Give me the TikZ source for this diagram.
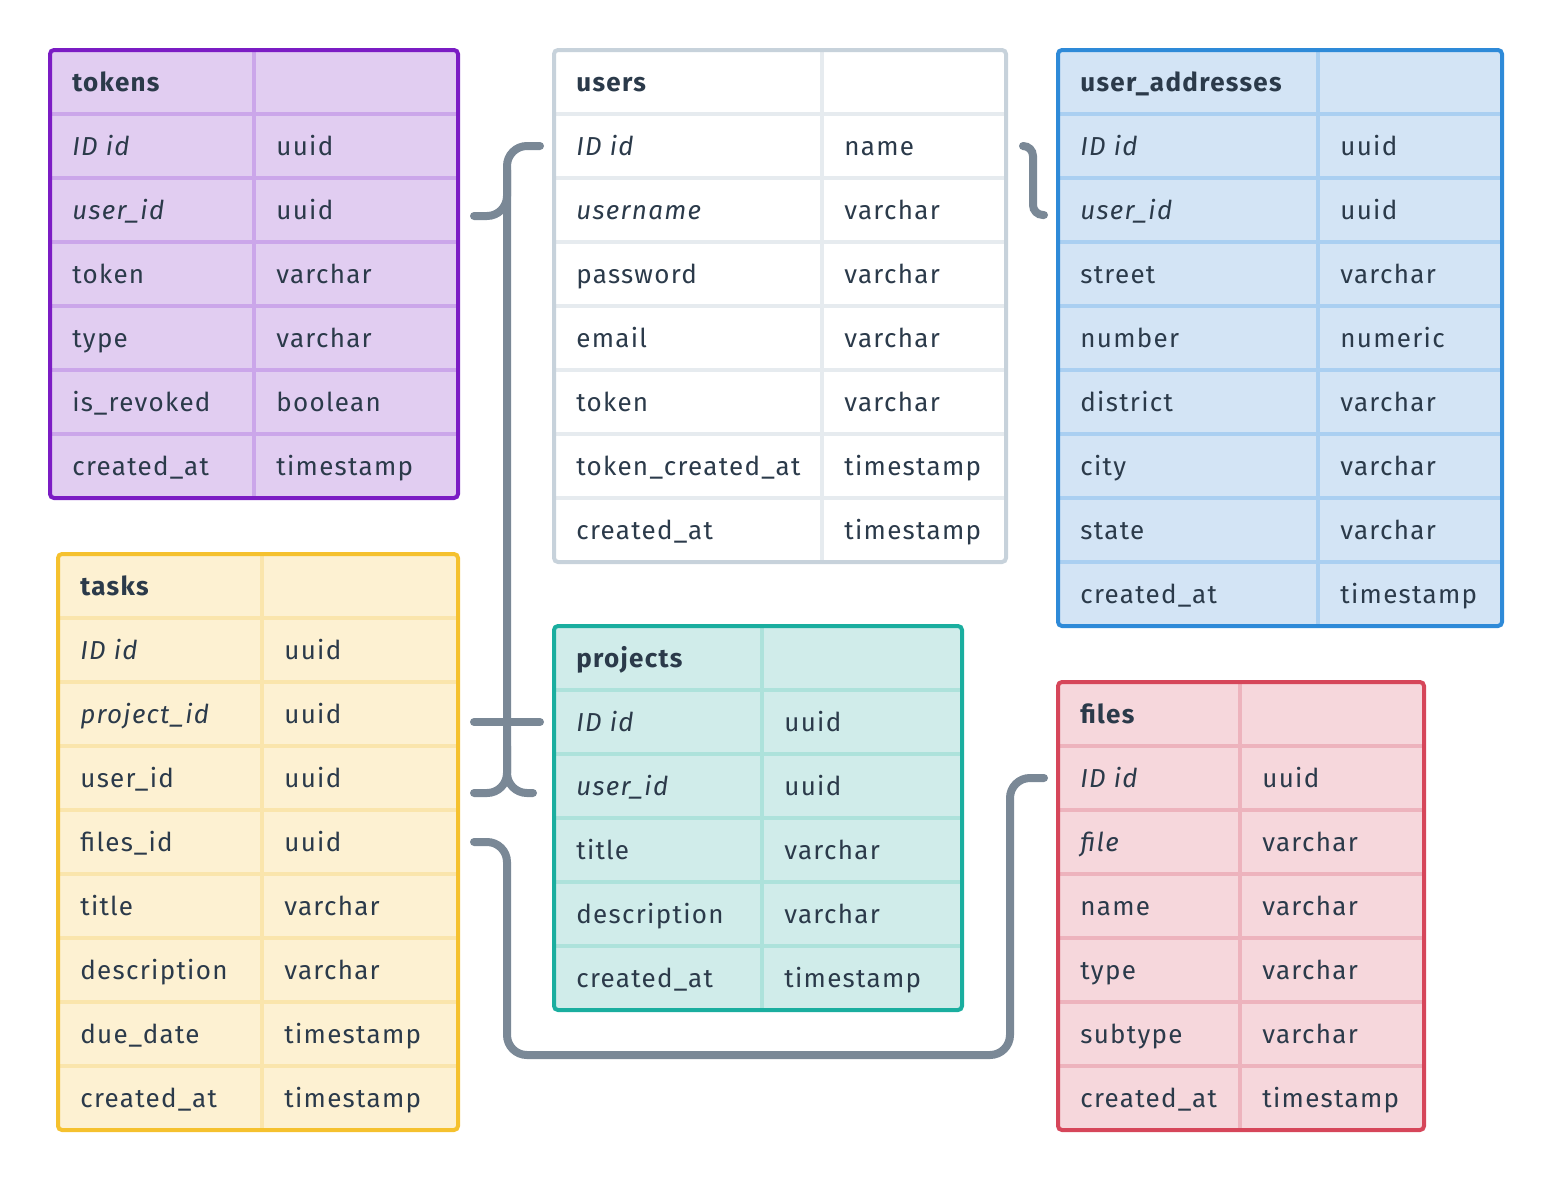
\documentclass[tikz,border=0pt]{standalone}
\usepackage{fontspec}
\setmainfont[LetterSpace=5]{Fira Sans}
\usetikzlibrary{calc}

\definecolor{ink}{HTML}{2B3A4A}
\definecolor{linkgray}{HTML}{7A8896}
\definecolor{tokbg}{HTML}{E1CDF1}
\definecolor{tokrule}{HTML}{CBA6EA}
\definecolor{tokedge}{HTML}{7B1CC4}
\definecolor{usrbg}{HTML}{FFFFFF}
\definecolor{usrrule}{HTML}{E6EBEF}
\definecolor{usredge}{HTML}{C7D2DB}
\definecolor{adrbg}{HTML}{D3E4F5}
\definecolor{adrrule}{HTML}{AACFF1}
\definecolor{adredge}{HTML}{2E8AD8}
\definecolor{tskbg}{HTML}{FDF1D2}
\definecolor{tskrule}{HTML}{FAE5AC}
\definecolor{tskedge}{HTML}{F5C12E}
\definecolor{prjbg}{HTML}{D0ECEA}
\definecolor{prjrule}{HTML}{ADE2DB}
\definecolor{prjedge}{HTML}{1AAE9F}
\definecolor{filbg}{HTML}{F6D7DC}
\definecolor{filrule}{HTML}{EDB3BD}
\definecolor{filedge}{HTML}{D6465A}

\newcommand{\cellsize}{\fontsize{14.8pt}{17pt}\selectfont}
\newcommand{\rowfont}[1]{\ifcase#1\bfseries\or\itshape\or\itshape\fi}

% #1 name, #2 left, #3 top, #4 split, #5 right, #6 bottom, #7 colour prefix, #8 rows
\newcommand{\erdtable}[8]{%
  \fill[#7bg, rounded corners=0.08cm] (#2,#3) rectangle (#5,#6);
  \foreach [count=\i from 0] \a/\b in {#8} {
    \pgfmathsetmacro{\rowy}{#3+64*\i}
    \ifnum\i>0 \draw[#7rule, rule] (#2,\rowy) -- (#5,\rowy); \fi
    \coordinate (#1-\i-w) at (#2,\rowy+32);
    \coordinate (#1-\i-e) at (#5,\rowy+32);
    \node[celltext, font=\cellsize\rowfont{\i}] (#1-\i-a) at (#2+22,\rowy+41) {\a};
    \node[celltext, font=\cellsize] (#1-\i-b) at (#4+22,\rowy+41) {\b};
  }
  \draw[#7rule, rule] (#4,#3) -- (#4,#6);
  \draw[#7edge, rule, rounded corners=0.08cm] (#2,#3) rectangle (#5,#6);
}

\begin{document}
\begin{tikzpicture}
[
    x = 0.02cm, y = -0.02cm,
    celltext/.style = {anchor = base west, inner sep = 0pt, text = ink},
    rule/.style = {line width = 0.08cm},
    link/.style = {draw = linkgray, line width = 0.16cm, line cap = round, rounded corners = 0.4cm},
]
\useasboundingbox (0,0) rectangle (1552,1180);

\erdtable{tokens}{50}{50}{254}{458}{498}{tok}{tokens/{}, ID id/uuid, user\_id/uuid,
    token/varchar, type/varchar, is\_revoked/boolean, created\_at/timestamp}
\erdtable{users}{554}{50}{822}{1006}{562}{usr}{users/{}, ID id/name, username/varchar,
    password/varchar, email/varchar, token/varchar, token\_created\_at/timestamp,
    created\_at/timestamp}
\erdtable{addresses}{1058}{50}{1318}{1502}{626}{adr}{user\_addresses/{}, ID id/uuid,
    user\_id/uuid, street/varchar, number/numeric, district/varchar, city/varchar,
    state/varchar, created\_at/timestamp}
\erdtable{tasks}{58}{554}{262}{458}{1130}{tsk}{tasks/{}, ID id/uuid, project\_id/uuid,
    user\_id/uuid, files\_id/uuid, title/varchar, description/varchar,
    due\_date/timestamp, created\_at/timestamp}
\erdtable{projects}{554}{626}{762}{962}{1010}{prj}{projects/{}, ID id/uuid, user\_id/uuid,
    title/varchar, description/varchar, created\_at/timestamp}
\erdtable{files}{1058}{682}{1240}{1424}{1130}{fil}{files/{}, ID id/uuid, file/varchar,
    name/varchar, type/varchar, subtype/varchar, created\_at/timestamp}

% relations
\draw[link] ($(users-1-w)+(-14,0)$) -| ($(tasks-3-e)+(49,15)$) -- ($(tasks-3-e)+(16,15)$);
\draw[link] ($(tokens-2-e)+(16,6)$) -| ($(users-1-w)+(-47,24)$);
\draw[link] ($(projects-2-w)+(-21,7)$) -| ($(projects-1-w)+(-47,24)$);
\draw[link] ($(tasks-2-e)+(16,8)$) -- ($(projects-1-w)+(-14,0)$);
\draw[link] ($(tasks-4-e)+(16,0)$) -| ($(tasks-4-e)+(49,213)$)
    -| ($(files-1-w)+(-48,0)$) -- ($(files-1-w)+(-14,0)$);
\draw[link, rounded corners = 0.2cm] ($(users-1-e)+(17,0)$)
    -| ($(addresses-2-w)+(-25,5)$) -- ($(addresses-2-w)+(-14,5)$);
\end{tikzpicture}
\end{document}
